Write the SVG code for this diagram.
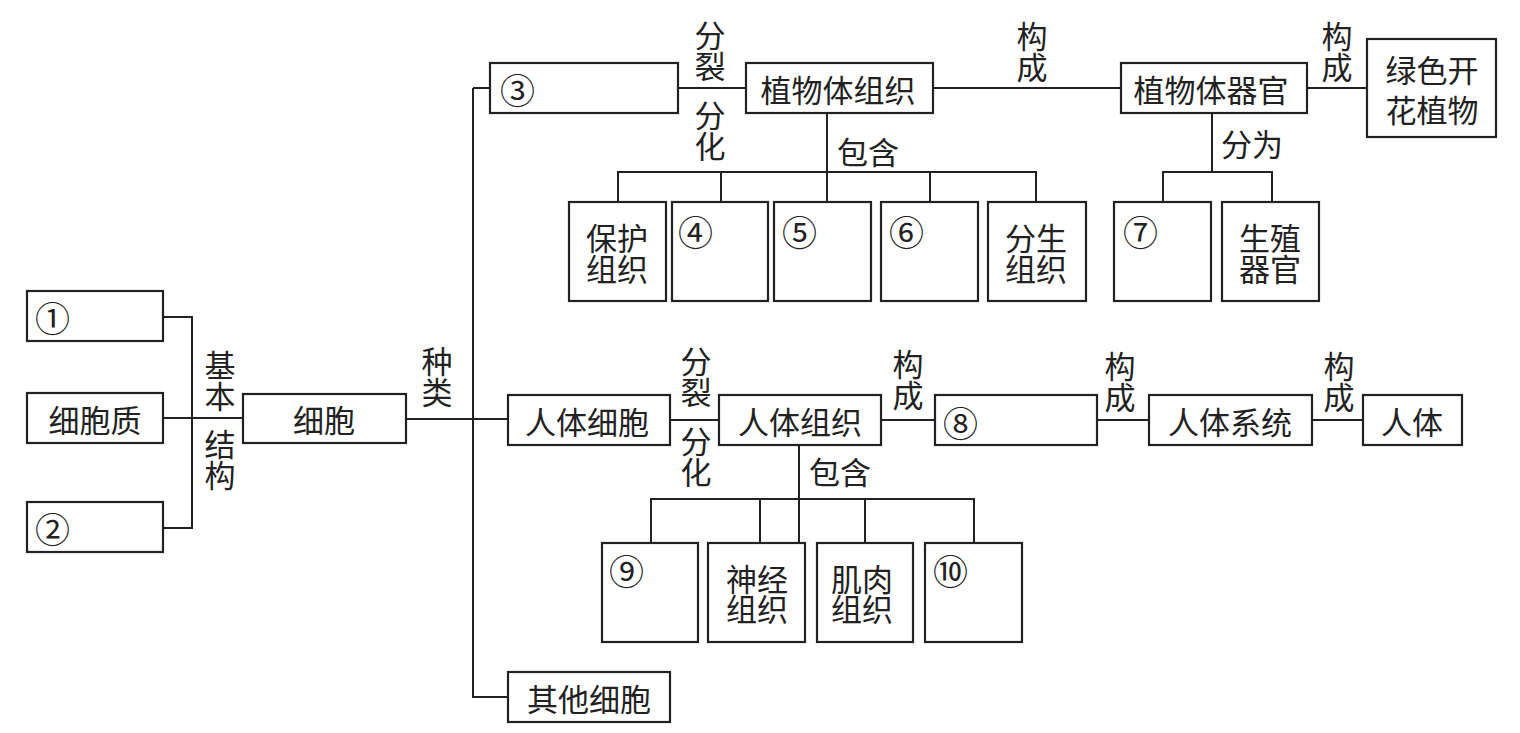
<svg xmlns="http://www.w3.org/2000/svg" width="1520" height="733" viewBox="0 0 1520 733">
<style>
.b{fill:#fff;stroke:#222;stroke-width:2.2}
.c{fill:none;stroke:#222;stroke-width:2}
text{font-family:"Noto Sans CJK SC","Noto Sans",sans-serif;font-size:31px;fill:#222;text-anchor:middle;dominant-baseline:central}
.v{writing-mode:vertical-rl;text-orientation:upright}
.n{font-size:35px;text-anchor:start}
</style>
<rect width="1520" height="733" fill="#fff"/>
<g id="connectors">
<path class="c" d="M163 317H192V528H163M163 418H243M406 419H508M473 88V697H508M473 88H490"/>
<path class="c" d="M678 88H746M933 88H1121M1307 88H1367"/>
<path class="c" d="M827 113V202M618 202V172H1036V202M721 172V202M930 172V202"/>
<path class="c" d="M1212 113V172M1163 202V172H1272V202"/>
<path class="c" d="M670 420H719M881 420H935M1097 420H1149M1312 420H1363"/>
<path class="c" d="M799 445V543M651 543V499H974V543M760 499V543M865 499V543"/>
</g>
<g id="edge-labels">
<text class="v" x="220" y="381">基本</text>
<text class="v" x="220" y="460">结构</text>
<text class="v" x="437" y="377">种类</text>
<text class="v" x="710" y="51">分裂</text>
<text class="v" x="710" y="131">分化</text>
<text x="868" y="150">包含</text>
<text class="v" x="1032" y="52">构成</text>
<text class="v" x="1337" y="52">构成</text>
<text x="1252" y="142">分为</text>
<text class="v" x="696" y="377">分裂</text>
<text class="v" x="696" y="457">分化</text>
<text class="v" x="908" y="380">构成</text>
<text x="840" y="470">包含</text>
<text class="v" x="1120" y="382">构成</text>
<text class="v" x="1339" y="382">构成</text>
</g>
<g id="n1"><rect class="b" x="27" y="291" width="136" height="50"/><text class="n" x="35" y="316">①</text></g>
<g id="n-cytoplasm"><rect class="b" x="27" y="393" width="136" height="50"/><text x="95" y="418">细胞质</text></g>
<g id="n2"><rect class="b" x="27" y="502" width="136" height="50"/><text class="n" x="35" y="527">②</text></g>
<g id="n-cell"><rect class="b" x="243" y="394" width="163" height="49"/><text x="324" y="418">细胞</text></g>
<g id="n3"><rect class="b" x="490" y="63" width="188" height="50"/><text class="n" x="500" y="88">③</text></g>
<g id="n-plant-tissue"><rect class="b" x="746" y="63" width="187" height="50"/><text x="838" y="88">植物体组织</text></g>
<g id="n-plant-organ"><rect class="b" x="1121" y="63" width="186" height="50"/><text x="1211" y="88">植物体器官</text></g>
<g id="n-plant"><rect class="b" x="1367" y="39" width="129" height="98"/><text x="1432" y="68">绿色开<tspan x="1432" y="108">花植物</tspan></text></g>
<g id="n-protect"><rect class="b" x="569" y="202" width="97" height="99"/><text x="617" y="236">保护<tspan x="617" y="267">组织</tspan></text></g>
<g id="n4"><rect class="b" x="672" y="202" width="96" height="99"/><text class="n" x="678" y="230">④</text></g>
<g id="n5"><rect class="b" x="774" y="202" width="97" height="99"/><text class="n" x="782" y="230">⑤</text></g>
<g id="n6"><rect class="b" x="881" y="202" width="97" height="99"/><text class="n" x="889" y="230">⑥</text></g>
<g id="n-meristem"><rect class="b" x="988" y="202" width="98" height="99"/><text x="1036" y="236">分生<tspan x="1036" y="267">组织</tspan></text></g>
<g id="n7"><rect class="b" x="1114" y="202" width="97" height="99"/><text class="n" x="1123" y="230">⑦</text></g>
<g id="n-repro"><rect class="b" x="1222" y="202" width="97" height="99"/><text x="1270" y="236">生殖<tspan x="1270" y="267">器官</tspan></text></g>
<g id="n-human-cell"><rect class="b" x="508" y="395" width="162" height="50"/><text x="587" y="420">人体细胞</text></g>
<g id="n-human-tissue"><rect class="b" x="719" y="395" width="162" height="50"/><text x="800" y="420">人体组织</text></g>
<g id="n8"><rect class="b" x="935" y="395" width="162" height="50"/><text class="n" x="943" y="421">⑧</text></g>
<g id="n-system"><rect class="b" x="1149" y="395" width="163" height="50"/><text x="1230" y="420">人体系统</text></g>
<g id="n-human"><rect class="b" x="1363" y="395" width="99" height="50"/><text x="1412" y="420">人体</text></g>
<g id="n9"><rect class="b" x="602" y="543" width="96" height="99"/><text class="n" x="609" y="569">⑨</text></g>
<g id="n-nerve"><rect class="b" x="708" y="543" width="97" height="99"/><text x="757" y="577">神经<tspan x="757" y="607">组织</tspan></text></g>
<g id="n-muscle"><rect class="b" x="817" y="543" width="96" height="99"/><text x="862" y="577">肌肉<tspan x="862" y="607">组织</tspan></text></g>
<g id="n10"><rect class="b" x="925" y="543" width="97" height="99"/><text class="n" x="933" y="569">⑩</text></g>
<g id="n-other"><rect class="b" x="508" y="672" width="162" height="50"/><text x="589" y="697">其他细胞</text></g>
</svg>
